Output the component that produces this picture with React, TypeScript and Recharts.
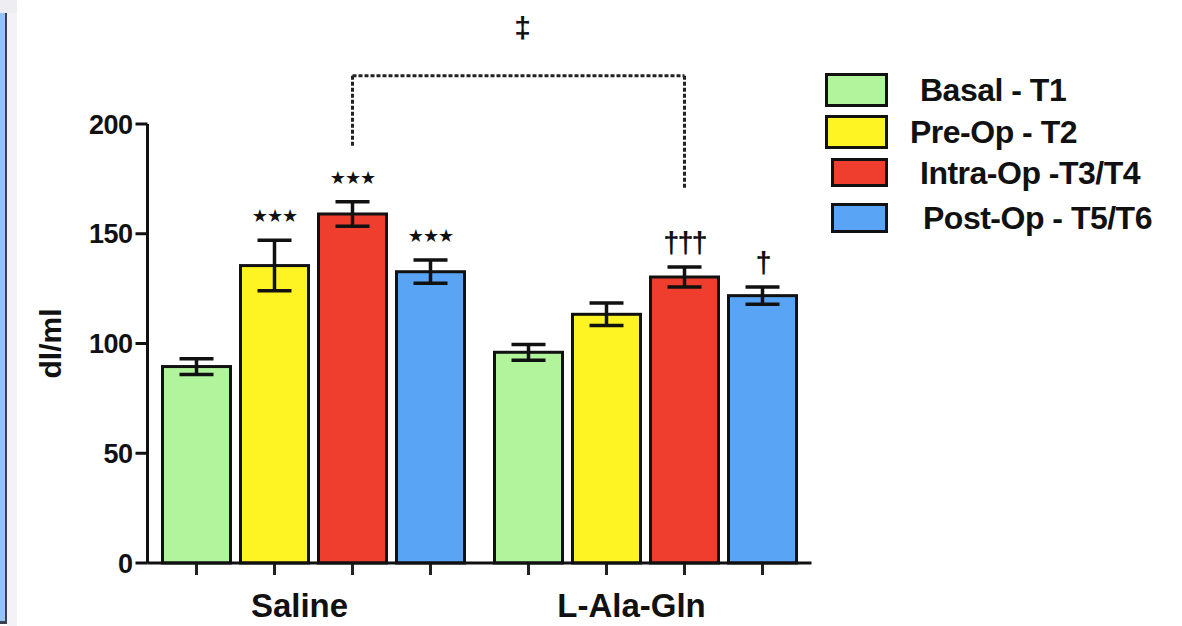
import type { FC } from 'react';
import { Bar, BarChart, ErrorBar, Legend, XAxis, YAxis } from 'recharts';

const categories = ['Saline', 'L-Ala-Gln'];

const basal = [89.5, 96];
const basalErr = [3.6, 3.6];
const preOp = [135.5, 113.3];
const preOpErr = [11.5, 5.1];
const intraOp = [159, 130.3];
const intraOpErr = [5.6, 4.6];
const postOp = [132.7, 121.8];
const postOpErr = [5.3, 3.9];

const basalSig = ['', ''];
const preOpSig = ['***', ''];
const intraOpSig = ['***', '†††'];
const postOpSig = ['***', '†'];

const yTicks = [0, 50, 100, 150, 200];

// dashed comparison bracket between the two Intra-Op bars (values in dl/ml)
const bracketTop = 222;
const bracketLegEnds = [190, 170];
const bracketMark = '‡';

type SeriesKey = 'basal' | 'preOp' | 'intraOp' | 'postOp';

const series: { key: SeriesKey; name: string; color: string }[] = [
  { key: 'basal', name: 'Basal - T1', color: '#b1f49c' },
  { key: 'preOp', name: 'Pre-Op - T2', color: '#fff423' },
  { key: 'intraOp', name: 'Intra-Op -T3/T4', color: '#ef3e2e' },
  { key: 'postOp', name: 'Post-Op - T5/T6', color: '#59a4f4' },
];

const data = categories.map((name, i) => ({
  name,
  basal: basal[i],
  basalErr: basalErr[i],
  basalSig: basalSig[i],
  preOp: preOp[i],
  preOpErr: preOpErr[i],
  preOpSig: preOpSig[i],
  intraOp: intraOp[i],
  intraOpErr: intraOpErr[i],
  intraOpSig: intraOpSig[i],
  postOp: postOp[i],
  postOpErr: postOpErr[i],
  postOpSig: postOpSig[i],
}));

const FONT = '"Liberation Sans", Arial, Helvetica, sans-serif';

let bracketStartX = 0;

const makeShape = (key: SeriesKey) => (props: any) => {
  const { x, y, width, height, fill, payload, index } = props;
  const value = payload[key];
  const ppu = value ? height / value : 0;
  const bottom = y + height;
  const cx = x + width / 2;
  const errTop = y - payload[`${key}Err`] * ppu;
  const sig: string = payload[`${key}Sig`];
  const isStar = sig.includes('*');

  let bracket = null;
  if (key === 'intraOp') {
    const topY = bottom - bracketTop * ppu;
    const legY = bottom - bracketLegEnds[index] * ppu;
    const dash = { stroke: '#222', strokeWidth: 3, strokeDasharray: '4 2' };
    if (index === 0) {
      bracketStartX = cx;
      bracket = <line x1={cx} y1={topY} x2={cx} y2={legY} {...dash} />;
    } else {
      bracket = (
        <g>
          <line x1={bracketStartX} y1={topY} x2={cx} y2={topY} {...dash} />
          <line x1={cx} y1={topY} x2={cx} y2={legY} {...dash} />
          <text
            x={(bracketStartX + cx) / 2 + 4}
            y={topY - 48}
            textAnchor="middle"
            dominantBaseline="central"
            fontFamily={FONT}
            fontWeight="bold"
            fontSize={30}
            fill="#111"
          >
            {bracketMark}
          </text>
        </g>
      );
    }
  }

  return (
    <g>
      <rect x={x} y={y} width={width} height={height} fill={fill} stroke="#111" strokeWidth={3} />
      <line x1={cx} y1={bottom} x2={cx} y2={bottom + 12} stroke="#222" strokeWidth={3} />
      {sig && (
        <text
          x={cx}
          y={errTop - (isStar ? 18 : 14)}
          textAnchor="middle"
          fontFamily={isStar ? '"DejaVu Sans", sans-serif' : FONT}
          fontWeight="bold"
          fontSize={isStar ? 18 : 29}
          letterSpacing={isStar ? -1 : -2}
          fill="#111"
        >
          {isStar ? sig.replace(/\*/g, '★') : sig}
        </text>
      )}
      {bracket}
    </g>
  );
};

const legendBoxes = [
  { top: 0, left: 0, w: 63, h: 34, textLeft: 95 },
  { top: 42, left: 0, w: 63, h: 34, textLeft: 85 },
  { top: 85, left: 6, w: 57, h: 29, textLeft: 95 },
  { top: 130, left: 6, w: 57, h: 30, textLeft: 98 },
];

const LegendContent = (props: any) => {
  const order = series.map((s) => s.name);
  const payload = [...(props.payload || [])].sort(
    (a: any, b: any) => order.indexOf(a.value) - order.indexOf(b.value),
  );
  return (
    <div style={{ position: 'relative', width: 357, height: 170, fontFamily: FONT }}>
      {payload.map((entry: any, i: number) => {
        const b = legendBoxes[i];
        return (
          <div key={entry.value}>
            <div
              style={{
                position: 'absolute',
                left: b.left,
                top: b.top,
                width: b.w - 6,
                height: b.h - 6,
                background: entry.color,
                border: '3px solid #111',
              }}
            />
            <div
              style={{
                position: 'absolute',
                left: b.textLeft,
                top: b.top + b.h / 2 - 19,
                fontSize: 32,
                fontWeight: 'bold',
                lineHeight: '38px',
                color: '#111',
                whiteSpace: 'nowrap',
                letterSpacing: -0.5,
              }}
            >
              {entry.value}
            </div>
          </div>
        );
      })}
    </div>
  );
};

const YLabel = (props: any) => {
  const { viewBox } = props;
  const cy = viewBox.y + viewBox.height / 2;
  return (
    <text
      x={50}
      y={cy}
      transform={`rotate(-90, 50, ${cy})`}
      textAnchor="middle"
      dominantBaseline="central"
      fontFamily={FONT}
      fontWeight="bold"
      fontSize={30}
      fill="#111"
    >
      dl/ml
    </text>
  );
};

const App: FC = () => {
  return (
    <div style={{ position: 'absolute', left: 0, top: 0, width: 1182, height: 626, background: '#fff' }}>
      {/* neighbouring page panel at the left edge */}
      <div style={{ position: 'absolute', left: 0, top: 0, width: 17, height: 13, background: '#eeeef2' }} />
      <div style={{ position: 'absolute', left: 7, top: 13, width: 10, height: 613, background: '#f3f3f7' }} />
      <div
        style={{
          position: 'absolute',
          left: 0,
          top: 13,
          width: 5,
          height: 608,
          background: '#94c4f4',
          borderRight: '2px solid #3a4250',
          borderBottom: '3px solid #3a4250',
        }}
      />
      <BarChart
        width={1182}
        height={626}
        data={data}
        margin={{ top: 124, right: 370.5, bottom: 13, left: 67.5 }}
        barSize={68}
        barGap={10}
      >
        <XAxis
          dataKey="name"
          height={50}
          tickLine={false}
          axisLine={{ stroke: '#111', strokeWidth: 3 }}
          tickMargin={25}
          tick={{ fontFamily: FONT, fontWeight: 'bold', fontSize: 33, fill: '#111', dx: -14 }}
        />
        <YAxis
          width={80}
          domain={[0, 200]}
          ticks={yTicks}
          interval={0}
          tickSize={12}
          tickMargin={3}
          axisLine={{ stroke: '#111', strokeWidth: 3 }}
          tickLine={{ stroke: '#111', strokeWidth: 3 }}
          tick={{ fontFamily: FONT, fontWeight: 'bold', fontSize: 27, fill: '#111', letterSpacing: -0.5 }}
          label={<YLabel />}
        />
        <Legend
          layout="vertical"
          verticalAlign="middle"
          align="center"
          content={<LegendContent />}
          wrapperStyle={{ position: 'absolute', left: 825, top: 73, width: 357, height: 170 }}
        />
        {series.map((s) => (
          <Bar
            key={s.key}
            dataKey={s.key}
            name={s.name}
            fill={s.color}
            isAnimationActive={false}
            shape={makeShape(s.key)}
          >
            <ErrorBar
              dataKey={`${s.key}Err`}
              width={17}
              strokeWidth={3.5}
              stroke="#111"
              direction="y"
              isAnimationActive={false}
            />
          </Bar>
        ))}
      </BarChart>
    </div>
  );
};

export default App;
